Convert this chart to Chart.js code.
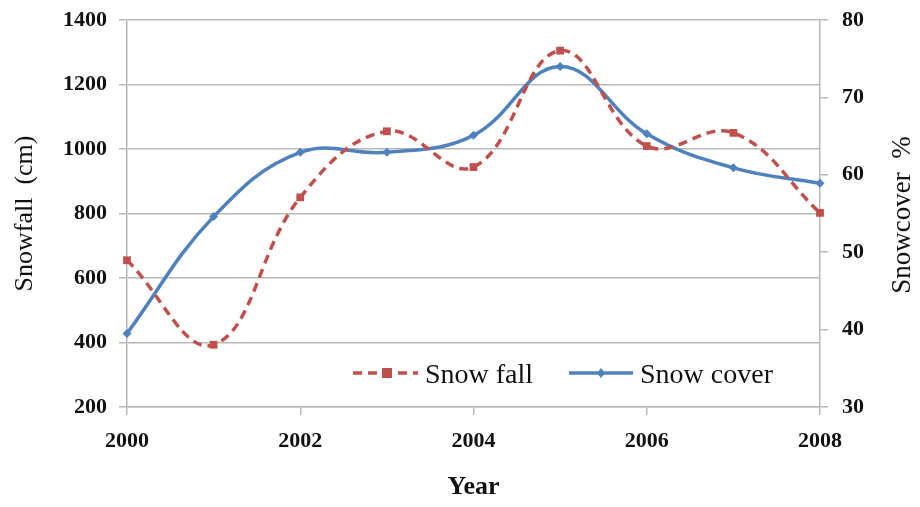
<!DOCTYPE html>
<html>
<head>
<meta charset="utf-8">
<script src="https://cdn.jsdelivr.net/npm/chart.js@4.4.1/dist/chart.umd.min.js"></script>
<style>
  html, body { margin: 0; padding: 0; background: #fff; }
  #wrap { width: 920px; height: 507px; }
</style>
</head>
<body>
<div id="wrap"><canvas id="chart" width="920" height="507"></canvas></div>
<script>
// Data
var years = [2000, 2001, 2002, 2003, 2004, 2005, 2006, 2007, 2008];
var snowFall = [655, 393, 850, 1055, 944, 1305, 1009, 1050, 802];   // cm, left axis
var snowCover = [39.5, 54.6, 62.9, 62.9, 65.1, 74.0, 65.3, 60.9, 58.9]; // %, right axis

var RED = '#C0504D';
var BLUE = '#4F81BD';
var GRID = '#b8b8b8';
var SERIF = '"Liberation Serif", "Times New Roman", serif';

function pts(vals) {
  return years.map(function (y, i) { return { x: y, y: vals[i] }; });
}
function plain(v) { return String(v); }

// legend drawn inside the plot area, bottom right
var inLegend = {
  id: 'inLegend',
  afterDraw: function (chart) {
    var ctx = chart.ctx;
    var y = 373;
    ctx.save();
    ctx.lineWidth = 3.5;
    ctx.strokeStyle = RED;
    ctx.setLineDash([9, 6]);
    ctx.beginPath(); ctx.moveTo(353, y); ctx.lineTo(418, y); ctx.stroke();
    ctx.setLineDash([]);
    ctx.fillStyle = RED;
    ctx.fillRect(382, y - 5, 10, 10);
    ctx.strokeStyle = BLUE;
    ctx.beginPath(); ctx.moveTo(569, y); ctx.lineTo(633, y); ctx.stroke();
    ctx.fillStyle = BLUE;
    ctx.beginPath();
    ctx.moveTo(601, y - 5); ctx.lineTo(605, y); ctx.lineTo(601, y + 5); ctx.lineTo(597, y);
    ctx.closePath(); ctx.fill();
    ctx.fillStyle = '#111';
    ctx.font = '28px ' + SERIF;
    ctx.textBaseline = 'alphabetic';
    ctx.fillText('Snow fall', 425, 383);
    ctx.fillText('Snow cover', 640, 383);
    // right axis title, reading bottom to top
    ctx.translate(903, 215);
    ctx.rotate(-Math.PI / 2);
    ctx.textAlign = 'center';
    ctx.textBaseline = 'middle';
    ctx.font = '27px ' + SERIF;
    ctx.fillText('Snowcover  %', 0, 0);
    ctx.restore();
  }
};

new Chart(document.getElementById('chart'), {
  type: 'line',
  data: {
    datasets: [{
      label: 'Snow fall',
      data: pts(snowFall),
      yAxisID: 'y',
      borderColor: RED,
      backgroundColor: RED,
      borderWidth: 3.5,
      borderDash: [9, 6],
      tension: 0.4,
      pointStyle: 'rect',
      pointRadius: 5.5,
      pointBorderWidth: 0,
      clip: false
    }, {
      label: 'Snow cover',
      data: pts(snowCover),
      yAxisID: 'y1',
      borderColor: BLUE,
      backgroundColor: BLUE,
      borderWidth: 3.5,
      tension: 0.4,
      pointStyle: 'rectRot',
      pointRadius: 4.5,
      pointBorderWidth: 0,
      clip: false
    }]
  },
  options: {
    responsive: false,
    animation: false,
    layout: { padding: { top: 20, right: 0, left: 0, bottom: 0 } },
    plugins: {
      legend: { display: false },
      tooltip: { enabled: false }
    },
    scales: {
      x: {
        type: 'linear',
        min: 2000, max: 2008,
        ticks: {
          stepSize: 2,
          padding: 13,
          color: '#111',
          font: { family: SERIF, size: 22, weight: 'bold' },
          callback: plain
        },
        grid: { drawOnChartArea: false, color: GRID, tickLength: 8, lineWidth: 1.5 },
        border: { color: GRID, width: 1.5 },
        title: {
          display: true, text: 'Year', color: '#111',
          font: { family: SERIF, size: 26, weight: 'bold' },
          padding: { top: 22 }
        },
        afterFit: function (s) { s.height = 100; }
      },
      y: {
        position: 'left',
        min: 200, max: 1400,
        ticks: {
          stepSize: 200,
          padding: 12,
          color: '#111',
          font: { family: SERIF, size: 22, weight: 'bold', lineHeight: 0.55 },
          callback: plain
        },
        grid: { color: GRID, tickLength: 8, lineWidth: 1.5 },
        border: { color: GRID, width: 1.5 },
        title: {
          display: true, text: 'Snowfall  (cm)', color: '#111',
          font: { family: SERIF, size: 26 },
          padding: { top: 10, bottom: 0 }
        },
        afterFit: function (s) { s.width = 127; }
      },
      y1: {
        position: 'right',
        min: 30, max: 80,
        ticks: {
          stepSize: 10,
          padding: 14,
          color: '#111',
          font: { family: SERIF, size: 22, weight: 'bold', lineHeight: 0.5 },
          callback: plain
        },
        grid: { drawOnChartArea: false, color: GRID, tickLength: 8, lineWidth: 1.5 },
        border: { color: GRID, width: 1.5 },
        afterFit: function (s) { s.width = 100; }
      }
    }
  },
  plugins: [inLegend]
});
</script>
</body>
</html>
